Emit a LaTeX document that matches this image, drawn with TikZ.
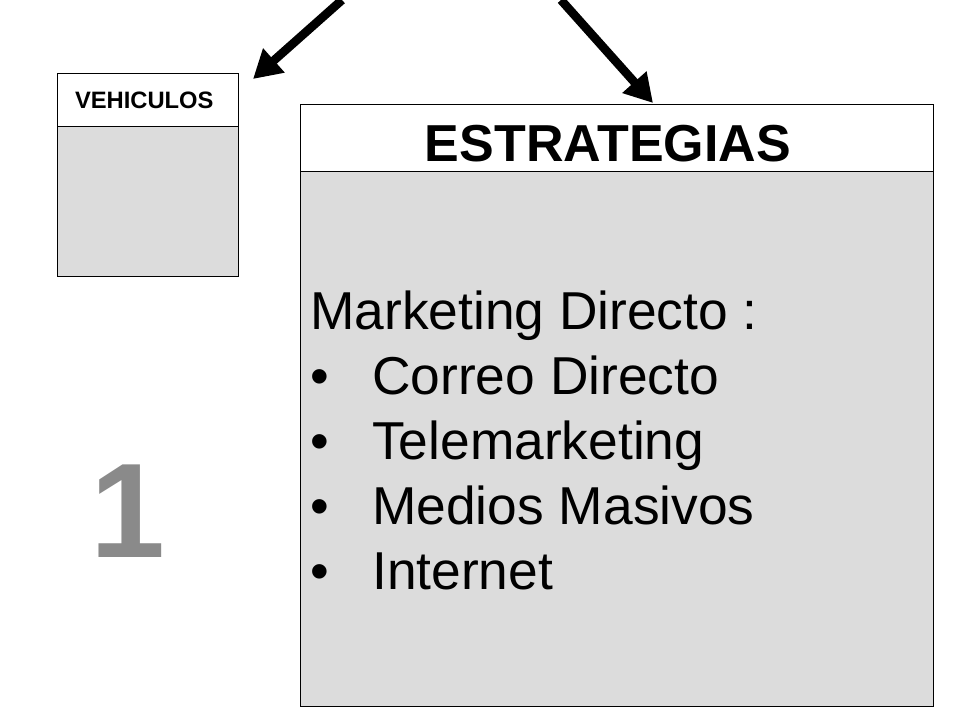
\documentclass[tikz,border=0pt]{standalone}
\usepackage{fontspec}
\setmainfont{Liberation Sans}
\usetikzlibrary{arrows.meta}
\definecolor{bodygray}{HTML}{DCDCDC}
\definecolor{numgray}{HTML}{8A8A8A}
\tikzset{
    headbox/.style={draw, line width=1.1pt, fill=white, anchor=north west, inner sep=0pt},
    bodybox/.style={draw, line width=1.1pt, fill=bodygray, anchor=north west, inner sep=0pt},
    bigarrow/.style={line width=6.5pt, -{Triangle[length=21pt,width=23pt]}}
}
\begin{document}
\begin{tikzpicture}[x=0.75pt, y=-0.75pt]
    \useasboundingbox (0,0) rectangle (960,720);
    \node[bodybox, minimum width=135.75pt, minimum height=112.5pt] (vehBody) at (57,126) {};
    \node[headbox, minimum width=135.75pt, minimum height=39.75pt,
          font=\bfseries\fontsize{17.8}{20}\selectfont] (vehHead) at (57,73) {VEHICULOS\kern6pt\relax};
    \node[bodybox, minimum width=474.75pt, minimum height=401.25pt] (estBody) at (300,171) {};
    \node[headbox, minimum width=474.75pt, minimum height=50.25pt,
          font=\bfseries\fontsize{39}{44}\selectfont,
          text height=35pt, text depth=0pt] (estHead) at (300,104) {ESTRATEGIAS\kern14pt\relax};
    \node[anchor=base west, align=left, inner sep=0pt,
          font=\fontsize{40}{48.75}\selectfont] (estList) at (310,589)
        {Marketing Directo :\\
         \makebox[46.5pt][l]{\textbullet}Correo Directo\\
         \makebox[46.5pt][l]{\textbullet}Telemarketing\\
         \makebox[46.5pt][l]{\textbullet}Medios Masivos\\
         \makebox[46.5pt][l]{\textbullet}Internet};
    \node[text=numgray, font=\bfseries\fontsize{101}{110}\selectfont,
          inner sep=0pt] (slideNum) at (127.5,511.5) {1};
    \coordinate (leftStart) at (342,0);
    \coordinate (leftTip) at (253,79);
    \coordinate (rightStart) at (561,0);
    \coordinate (rightTip) at (653,103);
    \draw[bigarrow] (leftStart) -- (leftTip);
    \draw[bigarrow] (rightStart) -- (rightTip);
\end{tikzpicture}
\end{document}
